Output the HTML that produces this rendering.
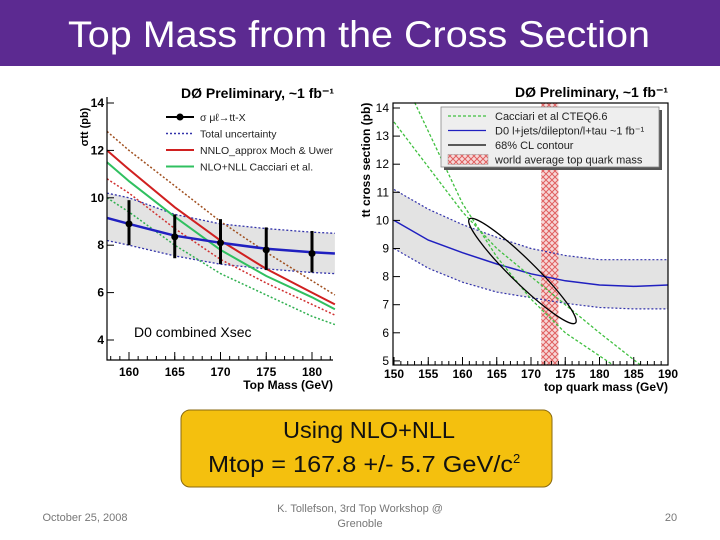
<!DOCTYPE html>
<html><head><meta charset="utf-8"><style>
html,body{margin:0;padding:0;background:#fff}
svg{display:block;font-family:"Liberation Sans",sans-serif}
</style></head><body>
<svg id="s" width="720" height="540" viewBox="0 0 720 540" xmlns="http://www.w3.org/2000/svg">
<defs>
<pattern id="hatch" width="6" height="6" patternUnits="userSpaceOnUse">
<rect width="6" height="6" fill="#f6d8d8"/>
<path d="M0,0L6,6M6,0L0,6" stroke="#e06060" stroke-width="1"/>
</pattern>
</defs>
<rect x="0" y="0" width="720" height="66" fill="#5c2a91"/>
<text x="68" y="47" textLength="582" lengthAdjust="spacingAndGlyphs" font-size="37" fill="#fff">Top Mass from the Cross Section</text>
<g id="left"></g>
<g id="right"></g>
<rect x="181" y="410" width="371" height="77" rx="9" fill="#f4c00e" stroke="#8a6a10" stroke-width="1"/>
<text x="283" y="438" textLength="172" lengthAdjust="spacingAndGlyphs" font-size="23" fill="#111">Using NLO+NLL</text>
<text x="208" y="472" font-size="23" fill="#111"><tspan textLength="305" lengthAdjust="spacingAndGlyphs">Mtop = 167.8 +/- 5.7 GeV/c</tspan><tspan font-size="13" dy="-9">2</tspan></text>
<text x="85" y="521" text-anchor="middle" font-size="11" fill="#777">October 25, 2008</text>
<text x="360" y="512" text-anchor="middle" font-size="11" fill="#777">K. Tollefson, 3rd Top Workshop @</text>
<text x="360" y="527" text-anchor="middle" font-size="11" fill="#777">Grenoble</text>
<text x="671" y="521" text-anchor="middle" font-size="11" fill="#777">20</text>
</svg>
<script>
// ---- left chart data ----
const lMass=[157.6,160,165,170,175,180,182.5];
const lCentral=[9.15,8.9,8.4,8.1,7.85,7.7,7.65];
const lBandUp=[10.2,10.0,9.3,8.9,8.7,8.55,8.5];
const lBandLo=[8.2,8.0,7.55,7.2,7.0,6.85,6.8];
const lNnlo=[12.0,11.2,9.6,8.2,7.0,6.0,5.5];
const lNnloUp=[12.8,12.0,10.5,9.0,7.7,6.5,5.9];
const lNnloLo=[10.8,10.2,8.7,7.4,6.4,5.5,5.05];
const lNlo=[11.5,10.7,9.2,7.8,6.7,5.8,5.3];
const lNloLo=[10.0,9.4,8.0,6.8,5.9,5.0,4.65];
const ptMass=[160,165,170,175,180];
const ptVal=[8.9,8.35,8.1,7.8,7.65];
const ptLo=[8.0,7.45,7.2,6.95,6.85];
const ptHi=[9.9,9.3,9.1,8.75,8.6];
const lXTicks=[160,165,170,175,180];
const lYTicks=[4,6,8,10,12,14];
// ---- right chart data ----
const rMass=[150,155,160,165,170,175,180,185,190];
const rCentral=[10.0,9.3,8.85,8.45,8.1,7.85,7.7,7.65,7.7];
const rBandUp=[11.1,10.4,9.85,9.4,9.0,8.75,8.6,8.6,8.6];
const rBandLo=[9.0,8.3,7.8,7.45,7.25,7.05,6.9,6.85,6.85];
const rGreenAMass=[153,160,165,170,175,182];
const rGreenA=[14.2,10.6,8.7,7.2,6.0,4.85];
const rGreenBMass=[150,155,160,165,170,175,180,186];
const rGreenB=[13.5,11.9,10.3,9.0,8.0,7.0,6.0,4.85];
const ellEnds=[[161,10.05],[176.5,6.35]];
const ellMinorPx=[12];
const worldAvg=[171.5,174];
const rXTicks=[150,155,160,165,170,175,180,185,190];
const rYTicks=[5,6,7,8,9,10,11,12,13,14];

const NS='http://www.w3.org/2000/svg';
function mk(p,t,a){const e=document.createElementNS(NS,t);for(const k in a)e.setAttribute(k,a[k]);p.appendChild(e);return e;}
function pathOf(xs,ys,X,Y){return xs.map((x,i)=>(i?'L':'M')+X(x).toFixed(1)+','+Y(ys[i]).toFixed(1)).join('');}

// LEFT
const L=document.getElementById('left');
const lx=m=>129+(m-160)*9.15, ly=v=>103+(14-v)*23.7;
const band=mk(L,'path',{d:pathOf(lMass,lBandUp,lx,ly)+pathOf(lMass.slice().reverse(),lBandLo.slice().reverse(),lx,ly).replace('M','L')+'Z',fill:'#e3e3e3'});


[[lBandUp,'#3333aa','2,2',1.3,'band-upper'],[lBandLo,'#3333aa','2,2',1.3,'band-lower'],[lNnloUp,'#a05020','2,2',1.5,'nnlo-upper'],[lNnloLo,'#d03030','2,2',1.5,'nnlo-lower'],[lNloLo,'#30b050','2,2',1.5,'nlo-lower'],[lNlo,'#30c060','',2,'nlo-nll-line'],[lNnlo,'#d02020','',2,'nnlo-line'],[lCentral,'#2020c0','',2.5,'central-line']].forEach(s=>{
 const p=mk(L,'path',{d:pathOf(lMass,s[0],lx,ly),fill:'none',stroke:s[1],'stroke-width':s[3],'stroke-dasharray':s[2]});
 
 
});
ptMass.forEach((m,i)=>{
 const g=mk(L,'g',{});
 
 
 mk(g,'line',{x1:lx(m),x2:lx(m),y1:ly(ptLo[i]),y2:ly(ptHi[i]),stroke:'#000','stroke-width':3});
 mk(g,'circle',{cx:lx(m),cy:ly(ptVal[i]),r:3.5,fill:'#000'});
});
mk(L,'path',{d:'M107,97V360H333',fill:'none',stroke:'#000','stroke-width':1.2});
lXTicks.forEach(t=>{mk(L,'line',{x1:lx(t),x2:lx(t),y1:360,y2:352,stroke:'#000'});
 const tx=mk(L,'text',{x:lx(t),y:376,'text-anchor':'middle','font-size':12,'font-weight':'bold'});tx.textContent=t;
 });
for(let m=158;m<=182;m++)mk(L,'line',{x1:lx(m),x2:lx(m),y1:360,y2:356,stroke:'#000'});
lYTicks.forEach(t=>{mk(L,'line',{x1:107,x2:114,y1:ly(t),y2:ly(t),stroke:'#000'});
 const tx=mk(L,'text',{x:104,y:ly(t)+4,'text-anchor':'end','font-size':12,'font-weight':'bold'});tx.textContent=t;
 });
let t;
t=mk(L,'text',{x:333,y:389,'text-anchor':'end','font-size':12,'font-weight':'bold'});t.textContent='Top Mass (GeV)';

t=mk(L,'text',{x:88,y:127,'text-anchor':'middle','font-size':11,'font-weight':'bold',transform:'rotate(-90 88 127)'});t.textContent='σtt (pb)';

t=mk(L,'text',{x:334,y:98,'text-anchor':'end','font-size':14,'font-weight':'bold'});t.textContent='DØ Preliminary, ~1 fb⁻¹';

t=mk(L,'text',{x:134,y:337,'font-size':14});t.textContent='D0 combined Xsec';

[['σ μℓ→tt-X','#000','',2],['Total uncertainty','#3333aa','2,2',1.5],['NNLO_approx Moch & Uwer','#d02020','',2],['NLO+NLL Cacciari et al.','#30c060','',2]].forEach((e,i)=>{
 const g=mk(L,'g',{});
 
 
 const y=117+i*16.5;
 mk(g,'line',{x1:166,x2:194,y1:y,y2:y,stroke:e[1],'stroke-width':e[3],'stroke-dasharray':e[2]});
 if(i==0)mk(g,'circle',{cx:180,cy:y,r:3.5,fill:'#000'});
 const tx=mk(g,'text',{x:200,y:y+4,'font-size':10.5,fill:'#222'});tx.textContent=e[0];
});

// RIGHT
const R=document.getElementById('right');
const rx=m=>394+(m-150)*6.85, ry=v=>108+(14-v)*28.1;
const rb=mk(R,'path',{d:pathOf(rMass,rBandUp,rx,ry)+pathOf(rMass.slice().reverse(),rBandLo.slice().reverse(),rx,ry).replace('M','L')+'Z',fill:'#e3e3e3'});


const wa=mk(R,'rect',{x:rx(worldAvg[0]),y:103,width:rx(worldAvg[1])-rx(worldAvg[0]),height:262,fill:'url(#hatch)'});


[[rMass,rBandUp,'#3333aa','2,2',1.2,'band-upper'],[rMass,rBandLo,'#3333aa','2,2',1.2,'band-lower'],[rMass,rCentral,'#2020c0','',1.5,'central-line'],[rGreenAMass,rGreenA,'#40c040','3,2',1.3,'cacciari-upper'],[rGreenBMass,rGreenB,'#40c040','3,2',1.3,'cacciari-lower']].forEach(s=>{
 const p=mk(R,'path',{d:pathOf(s[0],s[1],rx,ry),fill:'none',stroke:s[2],'stroke-width':s[4],'stroke-dasharray':s[3]});
 
 
});
{const x1=rx(ellEnds[0][0]),y1=ry(ellEnds[0][1]),x2=rx(ellEnds[1][0]),y2=ry(ellEnds[1][1]);
 const cx=(x1+x2)/2,cy=(y1+y2)/2,a=Math.hypot(x2-x1,y2-y1)/2,ang=Math.atan2(y2-y1,x2-x1)*180/Math.PI;
 const e=mk(R,'ellipse',{cx,cy,rx:a,ry:ellMinorPx[0],transform:`rotate(${ang} ${cx} ${cy})`,fill:'none',stroke:'#000','stroke-width':1.3});
 
 }
mk(R,'rect',{x:393,y:103,width:275,height:262,fill:'none',stroke:'#000','stroke-width':1.2});
rXTicks.forEach(v=>{mk(R,'line',{x1:rx(v),x2:rx(v),y1:365,y2:357,stroke:'#000'});
 const tx=mk(R,'text',{x:rx(v),y:378,'text-anchor':'middle','font-size':12,'font-weight':'bold'});tx.textContent=v;
 });
for(let m=151;m<190;m++)mk(R,'line',{x1:rx(m),x2:rx(m),y1:365,y2:361,stroke:'#000'});
rYTicks.forEach(v=>{mk(R,'line',{x1:393,x2:400,y1:ry(v),y2:ry(v),stroke:'#000'});
 const tx=mk(R,'text',{x:389,y:ry(v)+4,'text-anchor':'end','font-size':12});tx.textContent=v;
 });
t=mk(R,'text',{x:668,y:391,'text-anchor':'end','font-size':12,'font-weight':'bold'});t.textContent='top quark mass (GeV)';

t=mk(R,'text',{x:370,y:160,'text-anchor':'middle','font-size':12,'font-weight':'bold',transform:'rotate(-90 370 160)'});t.textContent='tt cross section (pb)';

t=mk(R,'text',{x:668,y:97,'text-anchor':'end','font-size':14,'font-weight':'bold'});t.textContent='DØ  Preliminary, ~1 fb⁻¹';

const lg=mk(R,'g',{});


mk(lg,'rect',{x:444,y:110,width:218,height:60,fill:'#555'});
mk(lg,'rect',{x:441,y:107,width:218,height:60,fill:'#eeeeee',stroke:'#888','stroke-width':0.8});
[['Cacciari et al CTEQ6.6','line','#40c040','3,2'],['D0 l+jets/dilepton/l+tau ~1 fb⁻¹','line','#2020c0',''],['68% CL contour','line','#000',''],['world average top quark mass','box','','']].forEach((e,i)=>{
 const g=mk(lg,'g',{});
 
 
 const y=116+i*14.5;
 if(e[1]=='line')mk(g,'line',{x1:448,x2:486,y1:y,y2:y,stroke:e[2],'stroke-width':1.3,'stroke-dasharray':e[3]});
 else mk(g,'rect',{x:448,y:y-5,width:40,height:10,fill:'url(#hatch)',stroke:'#999','stroke-width':0.5});
 const tx=mk(g,'text',{x:495,y:y+4,'font-size':11,fill:'#222'});tx.textContent=e[0];
});
</script>
</body></html>
